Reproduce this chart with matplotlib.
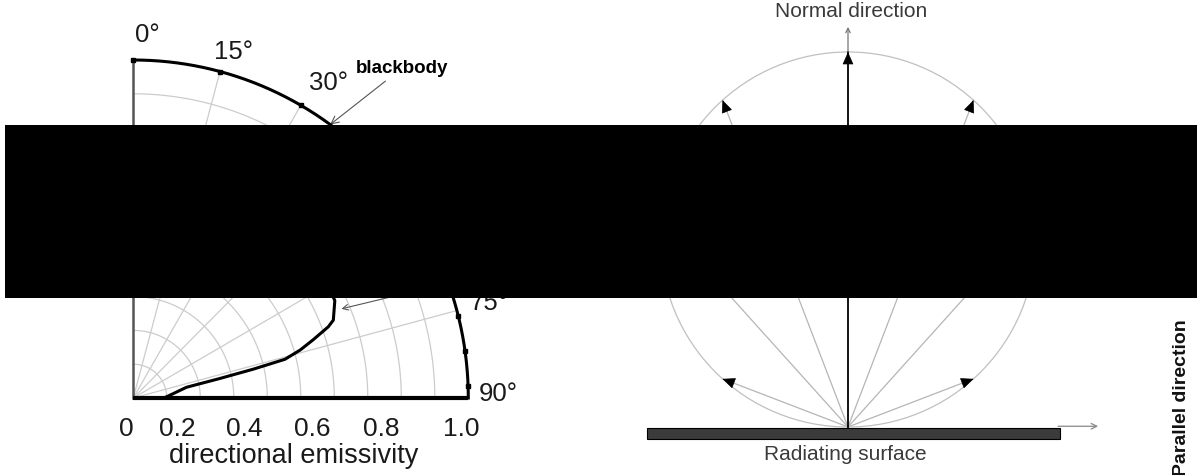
import numpy as np
import matplotlib
matplotlib.use("Agg")
import matplotlib.pyplot as plt
from matplotlib.patches import Circle, Rectangle, FancyArrowPatch

plt.rcParams['font.family'] = ['Liberation Sans', 'DejaVu Sans']

# ---------------- DATA ----------------
# left: directional emissivity, angle measured from the surface normal (deg)
grid_radii = [0.1, 0.2, 0.3, 0.4, 0.5, 0.6, 0.7, 0.8, 0.9]
grid_deg = [15, 30, 45, 60, 75]
bb_marker_deg = [0, 15, 30, 45, 60, 76, 82, 88]
meas_deg = [0, 15, 30, 45, 60, 64.4, 68.9, 70.1, 72.2, 74.1, 75.8, 76.6,
            77.4, 78.7, 87.8, 90]
meas_eps = [0.68, 0.68, 0.68, 0.675, 0.67, 0.667, 0.640, 0.619, 0.564,
            0.518, 0.467, 0.368, 0.265, 0.162, 0.10, 0.09]
x_ticks = [0, 0.2, 0.4, 0.6, 0.8, 1.0]
x_tick_labels = ['0', '0.2', '0.4', '0.6', '0.8', '1.0']
angle_labels = [0, 15, 30, 75, 90]

# right: Lambert cosine-law rays (deg from normal)
ray_deg = [-69, -42, -21, 0, 21, 42, 69]


def polar_xy(deg, r):
    t = np.radians(deg)
    return r * np.sin(t), r * np.cos(t)


fig = plt.figure(figsize=(11.97, 4.75), dpi=100)

# ---------------- LEFT PANEL ----------------
ax = fig.add_axes([0, 0, 600 / 1197, 1])
ax.set_xlim(-133.3 / 335, (600 - 133.3) / 335)
ax.set_ylim((398 - 475) / 338, 398 / 338)
ax.axis('off')

arc = np.linspace(0, 90, 181)
for r in grid_radii:
    gx, gy = polar_xy(arc, r)
    ax.plot(gx, gy, color='#cccccc', lw=0.9, zorder=1)
for d in grid_deg:
    ex, ey = polar_xy(d, 1.0)
    ax.plot([0, ex], [0, ey], color='#cccccc', lw=0.9, zorder=1)

ax.plot([0, 0], [0, 1], color='#555555', lw=1.8, zorder=3)
ax.plot([0, 1], [0, 0], color='black', lw=3, zorder=4, solid_capstyle='butt')

bx, by = polar_xy(arc, 1.0)
ax.plot(bx, by, color='black', lw=2.2, zorder=5)
mx, my = polar_xy(np.array(bb_marker_deg), 1.0)
ax.plot(mx, my, 's', color='black', ms=3.5, zorder=6)

cx, cy = polar_xy(np.array(meas_deg), np.array(meas_eps))
ax.plot(cx, cy, color='black', lw=2.2, zorder=5, solid_joinstyle='round')

ax.annotate('blackbody', xy=polar_xy(36, 1.0), xytext=(0.802, 0.976),
            ha='center', va='center', fontsize=13.5, fontweight='bold',
            arrowprops=dict(arrowstyle='->', color='#555555', lw=0.8,
                            shrinkA=2, shrinkB=0))
ax.annotate('', xy=polar_xy(67, 0.675), xytext=(0.856, 0.320),
            arrowprops=dict(arrowstyle='->', color='#555555', lw=0.8,
                            shrinkA=0, shrinkB=0))

# tick labels sit a little left of their grid value, as in the original
tick_nudge = [-0.02, -0.07, -0.07, -0.065, -0.06, -0.02]
for v, lab, nd in zip(x_ticks, x_tick_labels, tick_nudge):
    ax.text(v + nd, -0.092, lab, ha='center', va='center', fontsize=19,
            color='#1a1a1a')
ax.text(0.48, -0.172, 'directional emissivity', ha='center', va='center',
        fontsize=19.5, color='#1a1a1a')

label_shift = [2.2, 1.3, 2.0, 0.2, -0.6]
label_r = [1.075, 1.067, 1.10, 1.10, 1.09]
for d, sh, lr in zip(angle_labels, label_shift, label_r):
    lx, ly = polar_xy(d + sh, lr)
    ax.text(lx, ly, f'{d}°', ha='center', va='center', fontsize=18.5,
            color='#1a1a1a')

# ---------------- RIGHT PANEL ----------------
S = 375.0
ax2 = fig.add_axes([600 / 1197, 0, 597 / 1197, 1])
ax2.set_xlim((600 - 848) / S, (1197 - 848) / S)
ax2.set_ylim((427 - 475) / S, 427 / S)
ax2.axis('off')

ax2.add_patch(Circle((0, 0.5), 0.5, fill=False, ec='#c0c0c0', lw=0.9))

for d in ray_deg:
    L = np.cos(np.radians(d))
    ex, ey = polar_xy(d, L)
    if d == 0:
        ax2.plot([0, ex], [0, ey], color='black', lw=1.3, zorder=3)
    else:
        ax2.plot([0, ex], [0, ey], color='#b5b5b5', lw=0.9, zorder=2)
    ux, uy = polar_xy(d, 1.0)
    ax2.add_patch(FancyArrowPatch((ex - 0.03 * ux, ey - 0.03 * uy), (ex, ey),
                                  arrowstyle='-|>,head_length=0.8,head_width=0.35',
                                  mutation_scale=10, color='black', lw=0.5,
                                  shrinkA=0, shrinkB=0, zorder=4))

ax2.annotate('', xy=(0, 1.067), xytext=(0, 1.0),
             arrowprops=dict(arrowstyle='->', color='#777777', lw=0.9,
                             shrinkA=0, shrinkB=0, mutation_scale=8))
ax2.annotate('', xy=(0.667, 0.002), xytext=(0.56, 0.002),
             arrowprops=dict(arrowstyle='->', color='#888888', lw=0.9,
                             shrinkA=0, shrinkB=0, mutation_scale=10))

ax2.add_patch(Rectangle((-0.536, -0.032), 1.101, 0.029, fc='#3b3b3b',
                        ec='black', lw=0.8, zorder=3))

ax2.text(0.008, 1.107, 'Normal direction', ha='center', va='center',
         fontsize=15, color='#3a3a3a')
ax2.text(-0.008, -0.073, 'Radiating surface', ha='center', va='center',
         fontsize=15, color='#3a3a3a')
ax2.text(0.888, 0.077, 'Parallel direction', ha='center', va='center',
         fontsize=14, fontweight='bold', rotation=90, color='#111111')

# black block covering the middle band of the figure
fig.add_artist(Rectangle((5 / 1197, 177 / 475), 1 - 5 / 1197, 173 / 475,
                         transform=fig.transFigure, fc='black', ec='none',
                         zorder=100))

fig.savefig('out.png', dpi=100)
